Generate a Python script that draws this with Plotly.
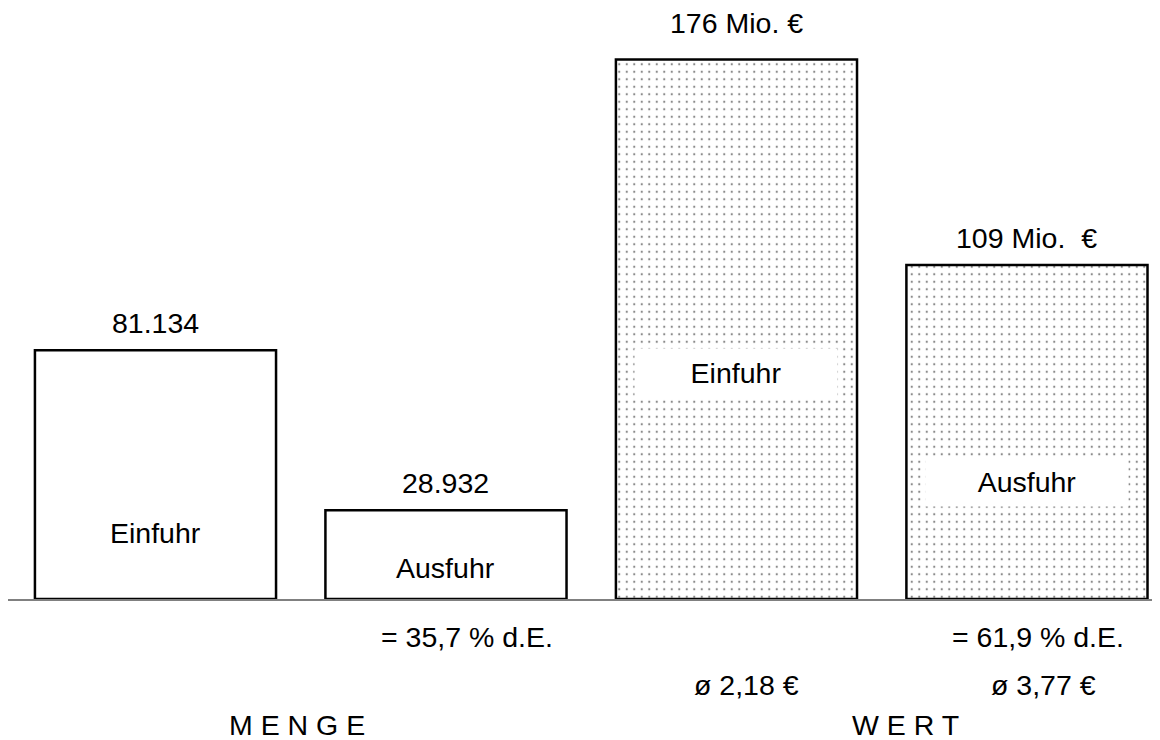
import plotly.graph_objects as go

# ---- data ----
categories = ["Menge Einfuhr", "Menge Ausfuhr", "Wert Einfuhr", "Wert Ausfuhr"]
values = [81.134, 28.932, 176, 109]
value_labels = ["81.134", "28.932", "176 Mio. €", "109 Mio.  €"]
inner_labels = ["Einfuhr", "Ausfuhr", "Einfuhr", "Ausfuhr"]
share_labels = ["= 35,7 % d.E.", "= 61,9 % d.E."]
avg_labels = ["ø 2,18 €", "ø 3,77 €"]
group_labels = ["M E N G E", "W E R T"]

FONT = "Arial, Liberation Sans, sans-serif"
FS = 28.5
PX_PER_UNIT = 3.065
xpos = list(range(len(categories)))

fig = go.Figure()
# Menge bars: white fill
fig.add_trace(go.Bar(
    x=xpos[:2], y=values[:2], width=0.83,
    marker=dict(color="white", line=dict(color="black", width=2.5)),
    hoverinfo="skip", showlegend=False,
))
# Wert bars: dotted fill
fig.add_trace(go.Bar(
    x=xpos[2:], y=values[2:], width=0.83,
    marker=dict(color="white", line=dict(color="black", width=2.5),
                pattern=dict(shape=".", size=7.5, solidity=0.07,
                             fgcolor="#111111", bgcolor="white", fillmode="overlay")),
    hoverinfo="skip", showlegend=False,
))

def font():
    return dict(size=FS, family=FONT, color="black")

ann = []
# value labels above bars
above_shift = [27, 27, 37, 27]
for i, (v, t) in enumerate(zip(values, value_labels)):
    ann.append(dict(x=xpos[i], y=v, text=t, showarrow=False, yanchor="middle",
                    yshift=above_shift[i], font=font()))
# inner labels (pixel offsets from baseline)
inner_shift = [66, 31, 226, 117]
for i, t in enumerate(inner_labels):
    d = dict(x=xpos[i], y=0, text=t, showarrow=False, yanchor="middle",
             yshift=inner_shift[i], font=font())
    if i >= 2:
        d.update(bgcolor="white", width=200, height=46)
    ann.append(d)
# below-axis labels
ann.append(dict(x=1, y=0, xshift=21, yshift=-38, text=share_labels[0], showarrow=False,
                yanchor="middle", font=font()))
ann.append(dict(x=3, y=0, xshift=11, yshift=-38, text=share_labels[1], showarrow=False,
                yanchor="middle", font=font()))
ann.append(dict(x=2, y=0, xshift=10, yshift=-86, text=avg_labels[0], showarrow=False,
                yanchor="middle", font=font()))
ann.append(dict(x=3, y=0, xshift=17, yshift=-86, text=avg_labels[1], showarrow=False,
                yanchor="middle", font=font()))
ann.append(dict(x=0.487, y=0, yshift=-126, text=group_labels[0], showarrow=False,
                yanchor="middle", font=font()))
ann.append(dict(x=2.583, y=0, yshift=-126, text=group_labels[1], showarrow=False,
                yanchor="middle", font=font()))

# page has an 8px body margin: figure is 1152x732 placed at (8, 8)
fig.update_layout(
    width=1152, height=732,
    margin=dict(l=0, r=0, t=0, b=141),
    paper_bgcolor="white", plot_bgcolor="white",
    bargap=0.17,
    xaxis=dict(range=[-0.5077, 3.458], showgrid=False, zeroline=False,
               showticklabels=False, ticks="", showline=True,
               linecolor="#808080", linewidth=2),
    yaxis=dict(range=[0, 591 / PX_PER_UNIT], showgrid=False, zeroline=False,
               showticklabels=False, ticks="", showline=False),
    annotations=ann,
)

fig.write_html("out.html")
